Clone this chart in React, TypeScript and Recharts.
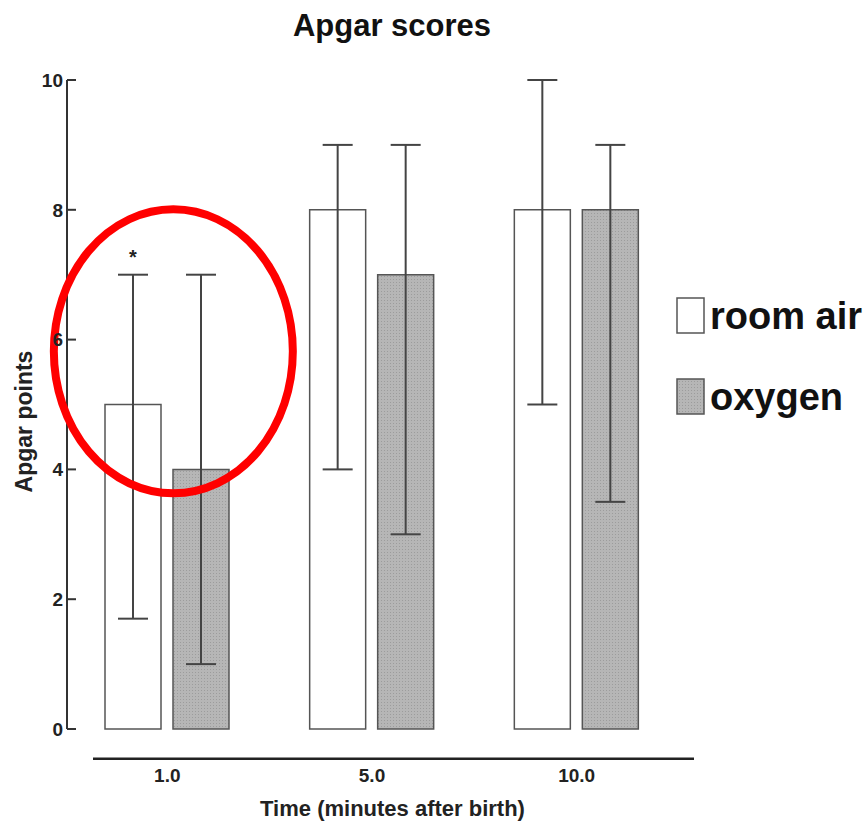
import { BarChart, Bar, XAxis, YAxis, ErrorBar, LabelList, Legend, ReferenceLine, ReferenceDot } from "recharts";

const categories = ["1.0", "5.0", "10.0"];
const seriesNames = ["room air", "oxygen"];
const roomAir = [5, 8, 8];
const oxygen = [4, 7, 8];
const roomAirLow = [1.7, 4, 5];
const roomAirHigh = [7, 9, 10];
const oxygenLow = [1, 3, 3.5];
const oxygenHigh = [7, 9, 9];
const marks = ["*", "", ""]; // significance marker above room air whisker
const yTicks = [0, 2, 4, 6, 8, 10];

const FONT = '"Liberation Sans", Arial, Helvetica, sans-serif';

// ErrorBar wants [minus, plus] offsets from the bar value
const data = categories.map((time, i) => ({
  time,
  roomAir: roomAir[i],
  oxygen: oxygen[i],
  roomAirErr: [roomAir[i] - roomAirLow[i], roomAirHigh[i] - roomAir[i]],
  oxygenErr: [oxygen[i] - oxygenLow[i], oxygenHigh[i] - oxygen[i]],
  mark: marks[i],
}));

const StarMark = (props: any) => {
  const { x, y, width, height, index, value } = props;
  if (!value) return null;
  const perUnit = Number(height) / roomAir[index];
  const capY = Number(y) + Number(height) - roomAirHigh[index] * perUnit;
  return (
    <text x={Number(x) + Number(width) / 2} y={capY - 11} textAnchor="middle" fontSize={20} fontWeight="bold" fontFamily={FONT} fill="#222">
      {value}
    </text>
  );
};

const YTitle = ({ viewBox }: any) => {
  const cx = viewBox.x + 32;
  const cy = viewBox.y + viewBox.height / 2 + 17;
  return (
    <text x={cx} y={cy} transform={`rotate(-90 ${cx} ${cy})`} textAnchor="middle" fontSize={23} fontWeight="bold" fontFamily={FONT} fill="#222">
      Apgar points
    </text>
  );
};

const XTitle = ({ viewBox }: any) => {
  const cx = viewBox.x + viewBox.width / 2 + 12;
  return (
    <text x={cx} y={816} textAnchor="middle" fontSize={22} fontWeight="bold" fontFamily={FONT} fill="#222">
      Time (minutes after birth)
    </text>
  );
};

const Halo = (props: any) => (
  <ellipse cx={props.cx + 6} cy={props.cy} rx={119.5} ry={142} fill="none" stroke="#ff0000" strokeWidth={8} />
);

const LegendBox = ({ payload }: any) => {
  const items = [...(payload || [])].sort((a: any, b: any) => seriesNames.indexOf(a.value) - seriesNames.indexOf(b.value));
  return (
    <div style={{ fontFamily: FONT }}>
      {items.map((entry: any) => (
        <div key={entry.value} style={{ display: "flex", height: 81 }}>
          <svg width={30} height={38}>
            <rect x={1} y={1} width={27} height={35} fill={entry.color} stroke="#555" strokeWidth={1.5} />
          </svg>
          <span style={{ fontSize: 38, fontWeight: "bold", marginLeft: 4, color: "#111", lineHeight: "38px" }}>
            {entry.value}
          </span>
        </div>
      ))}
    </div>
  );
};

export default function App() {
  return (
    <div style={{ position: "absolute", left: 0, top: 0, width: 868, height: 823, background: "#fff" }}>
      <div style={{ position: "absolute", left: 0, width: 784, top: 10, textAlign: "center", fontFamily: FONT, fontSize: 31, fontWeight: "bold", lineHeight: "31px", color: "#111" }}>
        Apgar scores
      </div>
      <BarChart width={868} height={823} data={data} margin={{ top: 80, right: 174, bottom: 34, left: 0 }} barSize={56} barGap={12}>
        <defs>
          <pattern id="oxygenDots" patternUnits="userSpaceOnUse" width={3} height={3}>
            <rect width={3} height={3} fill="#b6b6b6" />
            <rect width={1} height={1} fill="#9c9c9c" />
          </pattern>
        </defs>
        <XAxis
          dataKey="time"
          height={60}
          padding={{ left: -2, right: 15 }}
          axisLine={false}
          tickLine={false}
          tickSize={0}
          tickMargin={40}
          tick={{ fill: "#222", fontSize: 19, fontWeight: "bold", fontFamily: FONT }}
          label={<XTitle />}
        />
        <YAxis
          width={67}
          domain={[0, 10]}
          ticks={yTicks}
          tickSize={-9}
          tickMargin={13}
          axisLine={{ stroke: "#333", strokeWidth: 2 }}
          tickLine={{ stroke: "#333", strokeWidth: 2 }}
          tick={{ fill: "#222", fontSize: 19, fontWeight: "bold", fontFamily: FONT }}
          label={<YTitle />}
        />
        <ReferenceLine y={-0.46} ifOverflow="visible" stroke="#222" strokeWidth={2.5} strokeDasharray="0 26 2000" />
        <Bar dataKey="roomAir" name={seriesNames[0]} fill="#ffffff" stroke="#555" strokeWidth={1.5} isAnimationActive={false}>
          <ErrorBar dataKey="roomAirErr" width={15} stroke="#444" strokeWidth={2} />
          <LabelList dataKey="mark" content={<StarMark />} />
        </Bar>
        <Bar dataKey="oxygen" name={seriesNames[1]} fill="url(#oxygenDots)" stroke="#555" strokeWidth={1.5} isAnimationActive={false}>
          <ErrorBar dataKey="oxygenErr" width={15} stroke="#444" strokeWidth={2} />
        </Bar>
        <Legend
          layout="horizontal"
          verticalAlign="middle"
          align="center"
          content={<LegendBox />}
          wrapperStyle={{ left: 676, top: 297, width: 192 }}
        />
        <ReferenceDot x="1.0" y={5.82} r={0} ifOverflow="visible" shape={<Halo />} />
      </BarChart>
    </div>
  );
}
